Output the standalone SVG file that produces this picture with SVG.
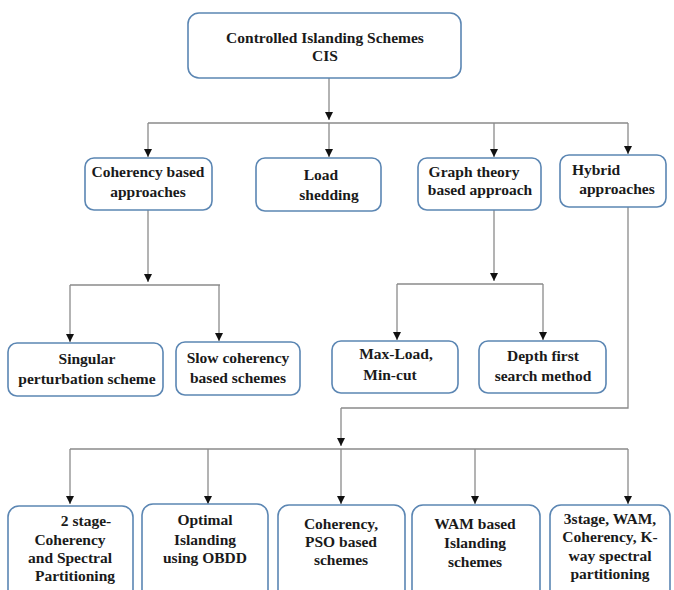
<svg xmlns="http://www.w3.org/2000/svg" width="674" height="590" viewBox="0 0 674 590">
<style>
.box{fill:#fff;stroke:#5b86b3;stroke-width:1.6}
.t{font-family:"Liberation Serif","DejaVu Serif",serif;font-weight:bold;font-size:15.5px;fill:#1a1a1a;text-anchor:middle}
.c{fill:none;stroke:#8a8a8a;stroke-width:1.3}
.a{fill:none;stroke:#8a8a8a;stroke-width:1.3;marker-end:url(#ah)}
</style>
<defs>
<marker id="ah" viewBox="0 0 10 10" refX="10" refY="5" markerWidth="8" markerHeight="8" markerUnits="userSpaceOnUse" orient="auto">
<path d="M0,0 L10,5 L0,10 z" fill="#111"/>
</marker>
</defs>
<rect width="674" height="590" fill="#fff"/>
<g id="connectors">
<path class="a" d="M329,78 V120"/>
<path class="c" d="M148,123 H628"/>
<path class="a" d="M148,123 V157"/>
<path class="a" d="M329,123 V157"/>
<path class="a" d="M494,123 V157"/>
<path class="a" d="M628,123 V154"/>
<path class="a" d="M148,210 V282"/>
<path class="c" d="M70,285 H220"/>
<path class="a" d="M70,285 V342"/>
<path class="a" d="M219,285 V341"/>
<path class="a" d="M494,210 V281"/>
<path class="c" d="M397,284 H543"/>
<path class="a" d="M397,284 V340"/>
<path class="a" d="M543,284 V340"/>
<path class="c" d="M628,207 V408 H341"/>
<path class="a" d="M341,408 V446"/>
<path class="c" d="M70,449 H628"/>
<path class="a" d="M70,449 V504"/>
<path class="a" d="M208,449 V504"/>
<path class="a" d="M341,449 V504"/>
<path class="a" d="M475,449 V504"/>
<path class="a" d="M628,449 V504"/>
</g>
<g id="cis"><rect class="box" x="188" y="13" width="273" height="65" rx="11"/>
<text class="t" x="325" y="43">Controlled Islanding Schemes</text><text class="t" x="325" y="61">CIS</text></g>
<g id="coherency"><rect class="box" x="85" y="158" width="127" height="52" rx="9"/>
<text class="t" x="148" y="177">Coherency based</text><text class="t" x="148" y="197">approaches</text></g>
<g id="load"><rect class="box" x="256" y="158" width="125" height="53" rx="9"/>
<text class="t" x="321" y="180">Load</text><text class="t" x="329" y="200">shedding</text></g>
<g id="graph"><rect class="box" x="418" y="158" width="123" height="52" rx="9"/>
<text class="t" x="474" y="177">Graph theory</text><text class="t" x="480" y="195">based approach</text></g>
<g id="hybrid"><rect class="box" x="560" y="155" width="106" height="52" rx="9"/>
<text class="t" x="596" y="175">Hybrid</text><text class="t" x="617" y="194">approaches</text></g>
<g id="singular"><rect class="box" x="8" y="343" width="155" height="53" rx="9"/>
<text class="t" x="87" y="364">Singular</text><text class="t" x="87" y="384">perturbation scheme</text></g>
<g id="slow"><rect class="box" x="176" y="342" width="124" height="53" rx="9"/>
<text class="t" x="238" y="363">Slow coherency</text><text class="t" x="238" y="383">based schemes</text></g>
<g id="maxload"><rect class="box" x="332" y="341" width="126" height="52" rx="9"/>
<text class="t" x="396" y="359">Max-Load,</text><text class="t" x="390" y="380">Min-cut</text></g>
<g id="depth"><rect class="box" x="479" y="341" width="127" height="52" rx="9"/>
<text class="t" x="543" y="361">Depth first</text><text class="t" x="543" y="381">search method</text></g>
<g id="twostage"><rect class="box" x="8" y="506" width="125" height="100" rx="11"/>
<text class="t" x="86" y="526">2 stage-</text><text class="t" x="70" y="545">Coherency</text><text class="t" x="70" y="563">and Spectral</text><text class="t" x="75" y="581">Partitioning</text></g>
<g id="optimal"><rect class="box" x="142" y="504" width="126" height="100" rx="11"/>
<text class="t" x="205" y="525">Optimal</text><text class="t" x="205" y="545">Islanding</text><text class="t" x="205" y="563">using OBDD</text></g>
<g id="pso"><rect class="box" x="278" y="505" width="127" height="100" rx="11"/>
<text class="t" x="341" y="529">Coherency,</text><text class="t" x="341" y="547">PSO based</text><text class="t" x="341" y="565">schemes</text></g>
<g id="wam"><rect class="box" x="412" y="505" width="128" height="100" rx="11"/>
<text class="t" x="475" y="529">WAM based</text><text class="t" x="475" y="548">Islanding</text><text class="t" x="475" y="567">schemes</text></g>
<g id="threestage"><rect class="box" x="550" y="505" width="120" height="100" rx="11"/>
<text class="t" x="610" y="524">3stage, WAM,</text><text class="t" x="610" y="542">Coherency, K-</text><text class="t" x="610" y="561">way spectral</text><text class="t" x="610" y="579">partitioning</text></g>
</svg>
